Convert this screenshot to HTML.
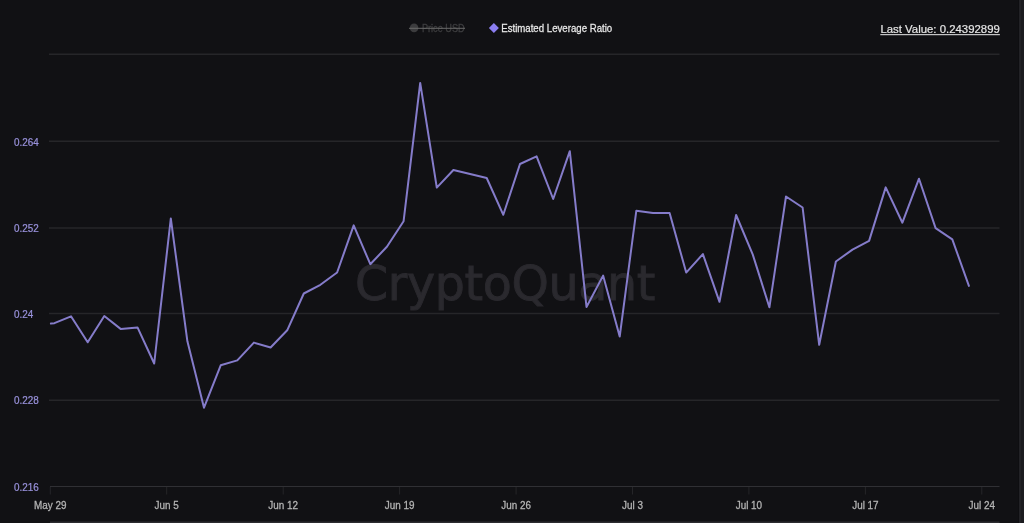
<!DOCTYPE html>
<html><head><meta charset="utf-8">
<style>
html,body{margin:0;padding:0;width:1024px;height:523px;overflow:hidden;background:#111114;}
body{position:relative;font-family:"Liberation Sans",Arial,sans-serif;}
svg{position:absolute;left:0;top:0;will-change:transform;}
.strip{position:absolute;left:1018px;top:0;width:6px;height:523px;background:linear-gradient(to right,#0e0e11 0,#0e0e11 1px,#222226 1px,#222226 3px,#1b1b1f 3px);}
</style></head><body>
<svg width="1024" height="523" viewBox="0 0 1024 523">
  <g stroke="#262629" stroke-width="1.4">
    <line x1="49" y1="54.3" x2="999.5" y2="54.3"/>
    <line x1="49" y1="141.3" x2="999.5" y2="141.3"/>
    <line x1="49" y1="228" x2="999.5" y2="228"/>
    <line x1="49" y1="313.5" x2="999.5" y2="313.5"/>
    <line x1="49" y1="400.3" x2="999.5" y2="400.3"/>
  </g>
  <line x1="50" y1="486.5" x2="999.5" y2="486.5" stroke="#303034" stroke-width="1"/>
  <g stroke="#252528" stroke-width="1">
<line x1="50.3" y1="487" x2="50.3" y2="494.5"/>
<line x1="166.7" y1="487" x2="166.7" y2="494.5"/>
<line x1="283.2" y1="487" x2="283.2" y2="494.5"/>
<line x1="399.6" y1="487" x2="399.6" y2="494.5"/>
<line x1="516.1" y1="487" x2="516.1" y2="494.5"/>
<line x1="632.5" y1="487" x2="632.5" y2="494.5"/>
<line x1="748.9" y1="487" x2="748.9" y2="494.5"/>
<line x1="865.4" y1="487" x2="865.4" y2="494.5"/>
<line x1="981.8" y1="487" x2="981.8" y2="494.5"/>
  </g>
  <text x="355" y="300" font-family="DejaVu Sans, sans-serif" font-size="47.5" letter-spacing="-0.35" fill="#2a292e" stroke="#2a292e" stroke-width="0.9">CryptoQuant</text>
  <path d="M50.9,323.6 L54.4,323.2 L71.0,316.3 L87.7,342.3 L104.3,316.0 L120.9,329.1 L137.5,327.4 L154.2,363.5 L170.8,218.5 L187.4,341.3 L204.0,407.7 L220.7,365.3 L237.3,360.4 L253.9,342.6 L270.6,347.5 L287.2,330.3 L303.8,293.5 L320.4,284.8 L337.1,272.5 L353.7,225.4 L370.3,264.2 L386.9,246.8 L403.6,221.2 L420.2,82.9 L436.8,187.6 L453.4,170.0 L470.1,174.0 L486.7,178.0 L503.3,214.8 L520.0,164.0 L536.6,156.3 L553.2,199.0 L569.8,151.2 L586.5,307.0 L603.1,275.6 L619.7,336.6 L636.3,210.8 L653.0,213.0 L669.6,213.0 L686.2,272.6 L702.9,254.1 L719.5,301.8 L736.1,215.0 L752.7,254.4 L769.4,307.3 L786.0,196.5 L802.6,207.5 L819.2,344.8 L835.9,261.5 L852.5,249.6 L869.1,240.9 L885.7,187.4 L902.4,222.7 L919.0,178.7 L935.6,228.1 L952.3,239.3 L968.9,285.9" fill="none" stroke="#857cca" stroke-width="2" stroke-linejoin="round" stroke-linecap="round"/>
  <g font-family="Liberation Sans, sans-serif" font-size="11" fill="#9891da" stroke="#9891da" stroke-width="0.25">
<text transform="translate(14,145.6) scale(0.9,1)" text-anchor="start">0.264</text>
<text transform="translate(14,231.7) scale(0.9,1)" text-anchor="start">0.252</text>
<text transform="translate(14,317.6) scale(0.9,1)" text-anchor="start">0.24</text>
<text transform="translate(14,404.3) scale(0.9,1)" text-anchor="start">0.228</text>
<text transform="translate(14,490.5) scale(0.9,1)" text-anchor="start">0.216</text>
  </g>
  <g font-family="Liberation Sans, sans-serif" font-size="11" fill="#b4b4b4" stroke="#b4b4b4" stroke-width="0.3">
<text transform="translate(50.3,508.6) scale(0.9,1)" text-anchor="middle">May 29</text>
<text transform="translate(166.7,508.6) scale(0.9,1)" text-anchor="middle">Jun 5</text>
<text transform="translate(283.2,508.6) scale(0.9,1)" text-anchor="middle">Jun 12</text>
<text transform="translate(399.6,508.6) scale(0.9,1)" text-anchor="middle">Jun 19</text>
<text transform="translate(516.1,508.6) scale(0.9,1)" text-anchor="middle">Jun 26</text>
<text transform="translate(632.5,508.6) scale(0.9,1)" text-anchor="middle">Jul 3</text>
<text transform="translate(748.9,508.6) scale(0.9,1)" text-anchor="middle">Jul 10</text>
<text transform="translate(865.4,508.6) scale(0.9,1)" text-anchor="middle">Jul 17</text>
<text transform="translate(981.8,508.6) scale(0.9,1)" text-anchor="middle">Jul 24</text>
  </g>
  <rect x="50" y="521.5" width="949.5" height="1.5" fill="#2c2c30"/>
  <!-- legend -->
  <circle cx="414.1" cy="27.9" r="4.3" fill="#3c3c3e"/>
  <text transform="translate(421.9,31.8) scale(0.875,1)" font-family="Liberation Sans, sans-serif" font-size="10.5" fill="#3d3d3f" stroke="#3d3d3f" stroke-width="0.3">Price USD</text>
  <line x1="409" y1="28.3" x2="465" y2="28.3" stroke="#6a6a6a" stroke-width="1"/>
  <path d="M493.9,23 L498.9,28 L493.9,33 L488.9,28 Z" fill="#8b7ef0"/>
  <text transform="translate(501.2,31.7) scale(0.92,1)" font-family="Liberation Sans, sans-serif" font-size="10.5" fill="#e8e8e8" stroke="#e8e8e8" stroke-width="0.25">Estimated Leverage Ratio</text>
  <text transform="translate(999.8,33.2) scale(0.99,1)" text-anchor="end" font-family="Liberation Sans, sans-serif" font-size="11.5" fill="#e6e6e6" stroke="#e6e6e6" stroke-width="0.2">Last Value: 0.24392899</text>
  <rect x="880.3" y="34.1" width="119.6" height="1.1" fill="#d8d8d8"/>
</svg>
<div class="strip"></div>
</body></html>
